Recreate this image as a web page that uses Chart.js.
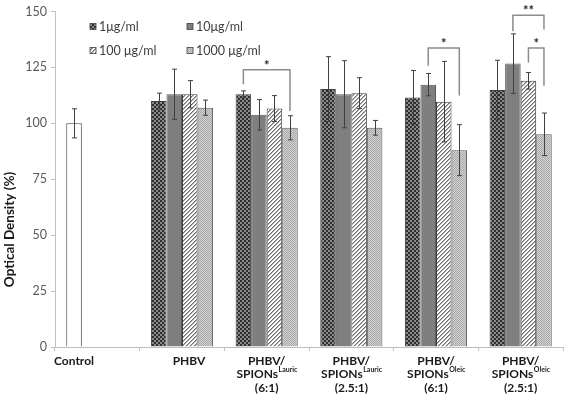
<!DOCTYPE html>
<html lang="en">
<head>
<meta charset="UTF-8">
<title>Optical Density</title>
<script src="https://cdn.jsdelivr.net/npm/chart.js"></script>
<style>
  html, body { margin: 0; padding: 0; background: #ffffff; }
  .wrap { width: 566px; height: 394px; }
</style>
</head>
<body>
<div class="wrap"><canvas id="odChart"></canvas></div>
<script>
// x categories, lines split by \n, superscript after ^
const categories = [
  'Control',
  'PHBV',
  'PHBV/\nSPIONs^Lauric\n(6:1)',
  'PHBV/\nSPIONs^Lauric\n(2.5:1)',
  'PHBV/\nSPIONs^Oleic\n(6:1)',
  'PHBV/\nSPIONs^Oleic\n(2.5:1)'
];
const seriesNames = ['1μg/ml', '10μg/ml', '100 μg/ml', '1000 μg/ml'];

// first value of s1 is the control bar
const s1 = [100, 110, 113, 115.3, 111.6, 114.9];
const s2 = [null, 113, 103.8, 113, 117.3, 126.7];
const s3 = [null, 113, 106.6, 113.5, 109.7, 119];
const s4 = [null, 107, 98, 98, 88, 95.1];

const s1Err = [6.5, 3.5, 1.5, 14.5, 12, 13.3];
const s2Err = [null, 11.2, 6.8, 15, 5, 13.3];
const s3Err = [null, 6.1, 5.8, 6.9, 18, 3.7];
const s4Err = [null, 3.4, 5.4, 3.3, 11.4, 9.5];

const yTicks = [0, 25, 50, 75, 100, 125, 150];

// significance brackets: category, from series, to series, top, left foot, right foot, mark
const sigBrackets = [
  [2, 0, 3, 124, 117.5, 105.5, '*'],
  [4, 1, 3, 133.7, 125.7, 112.4, '*'],
  [5, 1, 3, 148.3, 141.2, 142, '**'],
  [5, 2, 3, 133.7, 127.2, 116.8, '*']
];

function makePattern(w, h, draw) {
  const c = document.createElement('canvas');
  c.width = w; c.height = h;
  const g = c.getContext('2d');
  draw(g);
  return g.createPattern(c, 'repeat');
}

const patChecker = makePattern(4, 4, g => {
  g.fillStyle = '#8a8a8a'; g.fillRect(0, 0, 4, 4);
  g.fillStyle = '#2e2e2e'; g.fillRect(0, 0, 2, 2); g.fillRect(2, 2, 2, 2);
});
const patSolid = '#7f7f7f';
const patDiag = makePattern(4, 4, g => {
  g.fillStyle = '#ffffff'; g.fillRect(0, 0, 4, 4);
  for (let i = 0; i < 4; i++) {
    g.fillStyle = '#6e6e6e'; g.fillRect(i, 3 - i, 1, 1);
    g.fillStyle = '#b0b0b0'; g.fillRect((i + 1) % 4, 3 - i, 1, 1);
  }
});
const patDots = makePattern(2, 2, g => {
  g.fillStyle = '#d2d2d2'; g.fillRect(0, 0, 2, 2);
  g.fillStyle = '#a8a8a8'; g.fillRect(0, 0, 1, 1); g.fillRect(1, 1, 1, 1);
});

const fills = [patChecker, patSolid, patDiag, patDots];
const errs = [s1Err, s2Err, s3Err, s4Err];

const s1Fill = s1.map((v, i) => i === 0 ? '#ffffff' : patChecker);

const errorBars = {
  id: 'errorBars',
  afterDatasetsDraw(chart) {
    const ctx = chart.ctx, y = chart.scales.y;
    ctx.save();
    ctx.strokeStyle = '#404040';
    ctx.lineWidth = 1;
    chart.data.datasets.forEach((ds, d) => {
      const meta = chart.getDatasetMeta(d);
      ds.data.forEach((v, i) => {
        const e = errs[d][i];
        if (v == null || e == null) return;
        const x = Math.round(meta.data[i].x) + 0.5;
        const yt = y.getPixelForValue(v + e), yb = y.getPixelForValue(v - e);
        ctx.beginPath();
        ctx.moveTo(x, yt); ctx.lineTo(x, yb);
        ctx.moveTo(x - 2.5, yt); ctx.lineTo(x + 2.5, yt);
        ctx.moveTo(x - 2.5, yb); ctx.lineTo(x + 2.5, yb);
        ctx.stroke();
      });
    });

    // significance brackets
    ctx.strokeStyle = '#8c8c8c';
    ctx.lineWidth = 1.5;
    ctx.fillStyle = '#262626';
    ctx.font = 'bold 13px Lato';
    ctx.textAlign = 'center';
    ctx.textBaseline = 'middle';
    sigBrackets.forEach(b => {
      const x1 = chart.getDatasetMeta(b[1]).data[b[0]].x;
      const x2 = chart.getDatasetMeta(b[2]).data[b[0]].x;
      const yt = y.getPixelForValue(b[3]);
      ctx.beginPath();
      ctx.moveTo(x1, y.getPixelForValue(b[4]));
      ctx.lineTo(x1, yt);
      ctx.lineTo(x2, yt);
      ctx.lineTo(x2, y.getPixelForValue(b[5]));
      ctx.stroke();
      ctx.fillText(b[6], (x1 + x2) / 2, yt - 4);
    });
    ctx.restore();
  }
};

const extras = {
  id: 'extras',
  afterDraw(chart) {
    const ctx = chart.ctx, area = chart.chartArea, xs = chart.scales.x;
    ctx.save();

    // legend inside the plot
    ctx.font = '12.5px Lato';
    ctx.textBaseline = 'middle';
    ctx.textAlign = 'left';
    const spots = [[35, 15], [132, 15], [35, 39], [132, 39]];
    seriesNames.forEach((name, k) => {
      const bx = area.left + spots[k][0], by = area.top + spots[k][1];
      ctx.fillStyle = fills[k];
      ctx.fillRect(bx, by - 3, 6, 6);
      ctx.strokeStyle = '#404040';
      ctx.lineWidth = 0.8;
      ctx.strokeRect(bx, by - 3, 6, 6);
      ctx.fillStyle = '#404040';
      ctx.fillText(name, bx + 9, by);
    });

    // x category labels with superscripts
    ctx.fillStyle = '#1a1a1a';
    ctx.textAlign = 'left';
    categories.forEach((lab, i) => {
      let cx = xs.getPixelForValue(i);
      if (i === 0) cx = chart.getDatasetMeta(0).data[0].x;
      if (i === 1) cx += 7;
      lab.split('\n').forEach((line, j) => {
        const parts = line.split('^');
        ctx.font = 'bold 12px Lato';
        const w0 = ctx.measureText(parts[0]).width;
        let w1 = 0;
        if (parts[1]) { ctx.font = 'bold 7px Lato'; w1 = ctx.measureText(parts[1]).width; }
        const left = cx - (w0 + w1) / 2;
        const ly = area.bottom + 14 + j * 13.5;
        ctx.font = 'bold 12px Lato';
        ctx.fillText(parts[0], left, ly);
        if (parts[1]) { ctx.font = 'bold 7px Lato'; ctx.fillText(parts[1], left + w0 + 0.5, ly - 5); }
      });
    });

    // y axis title
    ctx.translate(10, area.top + 218);
    ctx.rotate(-Math.PI / 2);
    ctx.textAlign = 'center';
    ctx.font = 'bold 13.5px Lato';
    ctx.fillStyle = '#1a1a1a';
    ctx.fillText('Optical Density (%)', 0, 0);
    ctx.restore();
  }
};

new Chart(document.getElementById('odChart'), {
  type: 'bar',
  data: {
    labels: categories,
    datasets: [
      { label: seriesNames[0], data: s1, backgroundColor: s1Fill, borderColor: '#404040', borderWidth: 1 },
      { label: seriesNames[1], data: s2, backgroundColor: patSolid, borderColor: '#595959', borderWidth: 1 },
      { label: seriesNames[2], data: s3, backgroundColor: patDiag, borderColor: '#404040', borderWidth: 1 },
      { label: seriesNames[3], data: s4, backgroundColor: patDots, borderColor: '#595959', borderWidth: 1 }
    ]
  },
  options: {
    responsive: true,
    maintainAspectRatio: false,
    animation: false,
    layout: { padding: { top: 8, right: 3, left: 0, bottom: 0 } },
    plugins: { legend: { display: false }, tooltip: { enabled: false } },
    datasets: { bar: { categoryPercentage: 0.734, barPercentage: 1 } },
    scales: {
      x: {
        grid: { offset: true, drawOnChartArea: false, drawTicks: true, tickLength: 4, color: '#bfbfbf' },
        border: { color: '#bfbfbf' },
        ticks: { callback: () => '' },
        afterFit: s => { s.height = 47; }
      },
      y: {
        min: 0,
        max: 150,
        afterBuildTicks: s => { s.ticks = yTicks.map(v => ({ value: v })); },
        grid: { drawOnChartArea: false, drawTicks: true, tickLength: 4, color: '#bfbfbf' },
        border: { color: '#bfbfbf' },
        ticks: { color: '#595959', font: { family: 'Lato', size: 12.5 }, padding: 4 },
        afterFit: s => { s.width = 55; }
      }
    }
  },
  plugins: [errorBars, extras]
});
</script>
</body>
</html>
